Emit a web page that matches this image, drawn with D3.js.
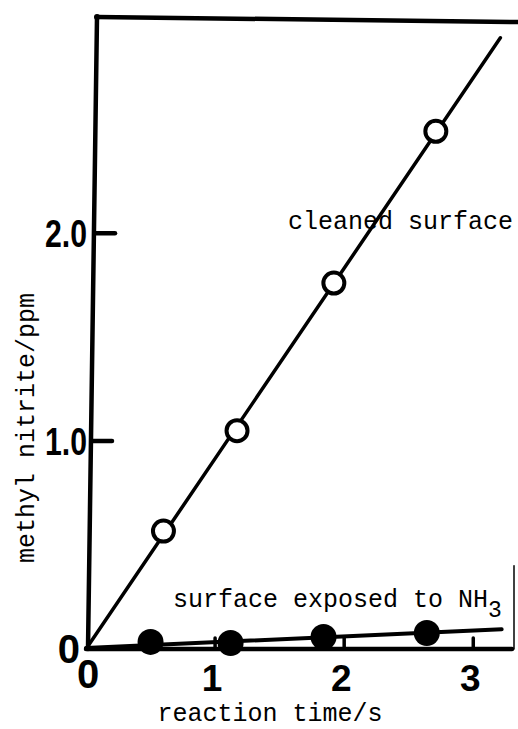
<!DOCTYPE html>
<html>
<head>
<meta charset="utf-8">
<script src="https://cdn.jsdelivr.net/npm/d3@7"></script>
<style>
  body { margin: 0; background: #fff; }
  svg { display: block; }
</style>
</head>
<body>
<svg id="chart" width="518" height="729"></svg>
<script>
// reaction time (s) vs methyl nitrite (ppm)
var cleanedTime = [0.6, 1.17, 1.92, 2.71];
var cleanedPpm = [0.567, 1.05, 1.76, 2.49];
var nh3Time = [0.5, 1.12, 1.84, 2.64];
var nh3Ppm = [0.034, 0.029, 0.058, 0.077];
// hand-drawn fit lines (start, end)
var cleanedFitTime = [0, 3.21];
var cleanedFitPpm = [0, 2.94];
var nh3FitTime = [0, 3.22];
var nh3FitPpm = [0.005, 0.095];
var xTicks = [1, 2, 3];
var xTickLabels = ["1", "2", "3"];
var yTicks = [1, 2];
var yTickLabels = ["1.0", "2.0"];

var svg = d3.select("#chart");

var x = d3.scaleLinear().domain([0, 3.3]).range([86, 512]);
var y = d3.scaleLinear().domain([0, 3.04]).range([649, 17]);

var mono = "'Liberation Mono', 'DejaVu Sans Mono', monospace";
var sans = "'Liberation Sans', Arial, sans-serif";

// frame
var frame = svg.append("g").attr("stroke", "#000").attr("stroke-linecap", "round");
frame.append("line")
  .attr("x1", x(0) + 2).attr("y1", y(0))
  .attr("x2", x(0) + 11).attr("y2", y(3.04))
  .attr("stroke-width", 4.5);
frame.append("line")
  .attr("x1", x(0)).attr("y1", y(0))
  .attr("x2", x(3.3)).attr("y2", y(0))
  .attr("stroke-width", 4.5);
frame.append("line")
  .attr("x1", x(0) + 11).attr("y1", y(3.04))
  .attr("x2", 518).attr("y2", y(3.04) + 5)
  .attr("stroke-width", 4.5);
frame.append("line")
  .attr("x1", x(3.3) + 2).attr("y1", y(0))
  .attr("x2", x(3.3) + 2).attr("y2", y(0.4))
  .attr("stroke-width", 1.5);
frame.append("circle")
  .attr("cx", x(0) + 11).attr("cy", y(3.04)).attr("r", 3)
  .attr("fill", "#000").attr("stroke", "none");

// ticks
frame.selectAll("line.xt")
  .data(xTicks)
  .enter()
  .append("line")
  .attr("class", "xt")
  .attr("x1", function (d) { return x(d); })
  .attr("x2", function (d) { return x(d); })
  .attr("y1", y(0))
  .attr("y2", y(0) - 11)
  .attr("stroke-width", 3.5);

frame.selectAll("line.yt")
  .data(yTicks)
  .enter()
  .append("line")
  .attr("class", "yt")
  .attr("x1", function (d) { return x(0) + 3 + d * 3; })
  .attr("x2", function (d) { return x(0) + 23 + d * 3; })
  .attr("y1", function (d) { return y(d); })
  .attr("y2", function (d) { return y(d); })
  .attr("stroke-width", 4.5);

// tick labels
svg.selectAll("text.xl")
  .data(xTicks)
  .enter()
  .append("text")
  .attr("class", "xl")
  .attr("x", function (d) { return x(d) - 3; })
  .attr("y", 691)
  .attr("text-anchor", "middle")
  .attr("font-family", sans)
  .attr("font-weight", "bold")
  .attr("font-size", 37)
  .text(function (d, i) { return xTickLabels[i]; });

svg.append("text")
  .attr("x", x(0) + 2).attr("y", 688)
  .attr("text-anchor", "middle")
  .attr("font-family", sans).attr("font-weight", "bold").attr("font-size", 40)
  .text("0");

svg.selectAll("text.yl")
  .data(yTicks)
  .enter()
  .append("text")
  .attr("class", "yl")
  .attr("x", 45)
  .attr("y", function (d) { return y(d) + 14; })
  .attr("font-family", sans)
  .attr("font-weight", "bold")
  .attr("font-size", 38)
  .attr("textLength", 42)
  .attr("lengthAdjust", "spacingAndGlyphs")
  .text(function (d, i) { return yTickLabels[i]; });

svg.append("text")
  .attr("x", 80).attr("y", y(0) + 14)
  .attr("text-anchor", "end")
  .attr("font-family", sans).attr("font-weight", "bold").attr("font-size", 40)
  .text("0");

// axis titles
svg.append("text")
  .attr("x", 270).attr("y", 721)
  .attr("text-anchor", "middle")
  .attr("font-family", mono).attr("font-size", 25)
  .text("reaction time/s");

svg.append("text")
  .attr("transform", "translate(34,428) rotate(-90)")
  .attr("text-anchor", "middle")
  .attr("font-family", mono).attr("font-size", 25)
  .text("methyl nitrite/ppm");

// fit lines
var line = d3.line()
  .x(function (d) { return x(d[0]); })
  .y(function (d) { return y(d[1]); });

svg.append("path")
  .datum(d3.zip(cleanedFitTime, cleanedFitPpm))
  .attr("d", line)
  .attr("fill", "none")
  .attr("stroke", "#000")
  .attr("stroke-width", 3.5)
  .attr("stroke-linecap", "round");

svg.append("path")
  .datum(d3.zip(nh3FitTime, nh3FitPpm))
  .attr("d", line)
  .attr("fill", "none")
  .attr("stroke", "#000")
  .attr("stroke-width", 4)
  .attr("stroke-linecap", "round");

// points
svg.append("g")
  .selectAll("circle")
  .data(d3.zip(cleanedTime, cleanedPpm))
  .enter()
  .append("circle")
  .attr("cx", function (d) { return x(d[0]); })
  .attr("cy", function (d) { return y(d[1]); })
  .attr("r", 10.5)
  .attr("fill", "#fff")
  .attr("stroke", "#000")
  .attr("stroke-width", 4);

svg.append("g")
  .selectAll("circle")
  .data(d3.zip(nh3Time, nh3Ppm))
  .enter()
  .append("circle")
  .attr("cx", function (d) { return x(d[0]); })
  .attr("cy", function (d) { return y(d[1]); })
  .attr("r", 13)
  .attr("fill", "#000");

// series labels
svg.append("text")
  .attr("x", 288).attr("y", 229)
  .attr("font-family", mono).attr("font-size", 25)
  .text("cleaned surface");

var nh3Label = svg.append("text")
  .attr("x", 173).attr("y", 607)
  .attr("font-family", mono).attr("font-size", 25)
  .text("surface exposed to NH");
nh3Label.append("tspan")
  .attr("dy", 10)
  .attr("font-size", 23)
  .text("3");
</script>
</body>
</html>
